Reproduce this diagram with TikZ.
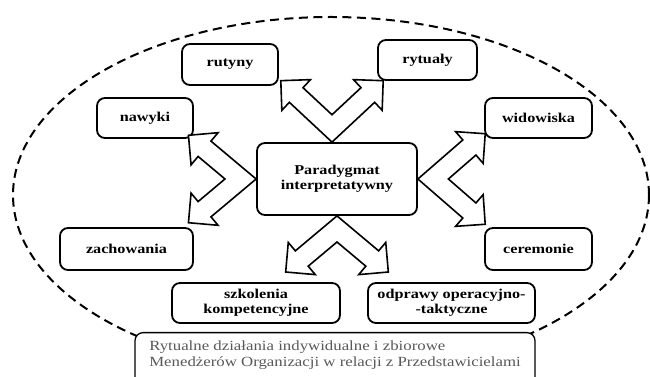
\documentclass[tikz,border=0pt]{standalone}
\usepackage{fontspec}
\setmainfont{Liberation Serif}[FakeStretch=1.2]
\usetikzlibrary{calc}

\begin{document}
\begin{tikzpicture}[x=1pt, y=1pt,
    every node/.style={font=\fontsize{13.5}{15}\selectfont\bfseries},
    ritbox/.style={draw, line width=1.8pt, rounded corners=8pt, fill=white, align=center, inner sep=2pt},
    twinline/.style={line width=1.6pt, fill=white, line join=miter},
    pics/twinarrow/.style n args={2}{code={
        \pgfmathsetmacro\vtxgap{10/sin(#1)}
        \draw[twinline, shift={(0,\vtxgap)}] (0,-\vtxgap)
            -- ($(90+#1:{#2-21})+(180+#1:10)$) -- ($(90+#1:{#2-21})+(180+#1:21)$)
            -- (90+#1:#2)
            -- ($(90+#1:{#2-21})+(#1:21)$) -- ($(90+#1:{#2-21})+(#1:10)$)
            -- (0,\vtxgap)
            -- ($(90-#1:{#2-21})+(180-#1:10)$) -- ($(90-#1:{#2-21})+(180-#1:21)$)
            -- (90-#1:#2)
            -- ($(90-#1:{#2-21})+(-#1:21)$) -- ($(90-#1:{#2-21})+(-#1:10)$)
            -- cycle;
    }}]
    \path[use as bounding box, clip] (0,0) rectangle (650,377);

    % dashed frame round everything
    \draw[line width=2pt, dash pattern=on 9pt off 5.5pt] (331,182) ellipse [x radius=318pt, y radius=178pt];

    % centre and the eight forms
    \node[ritbox, minimum width=160pt, minimum height=72pt] (paradygmat) at (337,198) {Paradygmat\\interpretatywny};
    \node[ritbox, minimum width=96pt, minimum height=41pt] (rutyny) at (230,312.5) {rutyny};
    \node[ritbox, minimum width=99pt, minimum height=40pt] (rytualy) at (427.5,317) {rytuały};
    \node[ritbox, minimum width=96pt, minimum height=40pt] (nawyki) at (145,259) {nawyki};
    \node[ritbox, minimum width=107pt, minimum height=40pt] (widowiska) at (538.5,259) {widowiska};
    \node[ritbox, minimum width=133pt, minimum height=42pt] (zachowania) at (126.5,128) {zachowania};
    \node[ritbox, minimum width=107pt, minimum height=42pt] (ceremonie) at (538.5,128) {ceremonie};
    \node[ritbox, minimum width=168pt, minimum height=40pt] (szkolenia) at (256,74) {szkolenia\\kompetencyjne};
    \node[ritbox, minimum width=167pt, minimum height=40pt] (odprawy) at (451.5,74) {odprawy operacyjno-\\-taktyczne};

    % caption box, cut by the lower edge
    \node[ritbox, anchor=north, line width=1.3pt, align=left, minimum width=400pt, inner ysep=8pt,
          font=\fontsize{14}{16.5}\selectfont, text=black!65] (dzialania) at (335,45)
        {Rytualne działania indywidualne i zbiorowe\\Menedżerów Organizacji w relacji z Przedstawicielami\\[-6pt]\mbox{}};

    % twin arrows out of the centre
    \pic at ([xshift=-5pt]paradygmat.north) {twinarrow={47}{70}};
    \pic[rotate=180] at (paradygmat.south) {twinarrow={50}{67}};
    \pic[rotate=90] at (paradygmat.west) {twinarrow={40}{68}};
    \pic[rotate=-90] at (paradygmat.east) {twinarrow={41}{69}};
\end{tikzpicture}
\end{document}
